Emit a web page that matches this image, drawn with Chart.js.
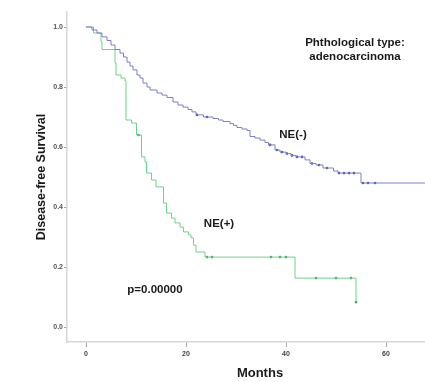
<!DOCTYPE html>
<html>
<head>
<meta charset="utf-8">
<script src="https://cdn.jsdelivr.net/npm/chart.js@4"></script>
<style>
  html, body { margin: 0; padding: 0; background: #fff; overflow: hidden; }
  #wrap { position: relative; width: 460px; height: 382px; }
</style>
</head>
<body>
<div id="wrap"><canvas id="km"></canvas></div>
<script>
// --- DATA (months, survival after each event) ---
const negSteps = [
  [0, 1.0], [1.2, 0.99], [2.2, 0.98], [3.2, 0.967], [4.2, 0.955], [5.0, 0.94],
  [5.8, 0.925], [6.8, 0.913], [7.5, 0.9], [8.2, 0.883], [8.8, 0.87], [9.4, 0.857],
  [10.2, 0.84], [10.8, 0.83], [11.4, 0.813], [12.2, 0.8], [12.8, 0.79], [14.2, 0.78],
  [15.2, 0.773], [16.2, 0.765], [17.4, 0.75], [18.4, 0.74], [19.4, 0.733], [20.4, 0.725],
  [21.2, 0.717], [22.0, 0.707], [23.5, 0.7], [25.4, 0.695], [26.5, 0.69], [27.4, 0.685],
  [28.8, 0.678], [29.5, 0.672], [30.2, 0.665], [31.2, 0.66], [32.2, 0.655], [32.8, 0.635],
  [33.8, 0.63], [34.8, 0.623], [35.8, 0.615], [36.5, 0.607], [37.8, 0.59], [38.8, 0.583],
  [40.0, 0.578], [41.0, 0.572], [42.0, 0.567], [43.8, 0.557], [44.8, 0.545], [46.0, 0.54],
  [47.4, 0.53], [49.5, 0.52], [50.4, 0.513], [55.0, 0.48], [73.4, 0.48]
];
const negCensored = [
  [22.2, 0.707], [24.2, 0.7], [36.8, 0.607], [38.2, 0.59], [39.2, 0.583], [40.2, 0.578],
  [41.2, 0.572], [42.2, 0.567], [43.2, 0.567], [45.2, 0.545], [46.6, 0.54], [48.2, 0.53],
  [50.6, 0.513], [51.6, 0.513], [52.6, 0.513], [53.6, 0.513], [55.4, 0.48], [56.4, 0.48], [57.8, 0.48]
];
const posSteps = [
  [0, 1.0], [1.5, 0.98], [3.0, 0.95], [3.2, 0.925], [5.8, 0.88], [6.0, 0.84], [7.0, 0.83],
  [7.8, 0.82], [8.0, 0.69], [9.1, 0.68], [10.1, 0.64], [11.1, 0.567], [11.8, 0.55],
  [12.1, 0.513], [13.1, 0.49], [14.0, 0.467], [15.5, 0.413], [16.1, 0.38], [17.1, 0.363],
  [17.8, 0.347], [18.8, 0.333], [19.5, 0.317], [20.5, 0.307], [21.0, 0.297], [21.5, 0.273],
  [22.0, 0.25], [23.8, 0.233], [41.8, 0.163], [54.0, 0.083]
];
const posCensored = [
  [10.5, 0.64], [24.2, 0.233], [25.2, 0.233], [37.0, 0.233], [38.8, 0.233], [40.0, 0.233],
  [46.0, 0.163], [50.0, 0.163], [53.0, 0.163], [54.0, 0.083]
];
const xTicks = [0, 20, 40, 60];
const yTicks = [0, 0.2, 0.4, 0.6, 0.8, 1.0];
const notes = [
  { text: 'Phthological type:', x: 355, y: 43 },
  { text: 'adenocarcinoma', x: 355, y: 57 },
  { text: 'NE(-)', x: 293, y: 135 },
  { text: 'NE(+)', x: 219, y: 224 },
  { text: 'p=0.00000', x: 155, y: 290 }
];

const toPts = arr => arr.map(([x, y]) => ({ x, y }));

const notesPlugin = {
  id: 'notes',
  afterDraw(chart) {
    const ctx = chart.ctx;
    ctx.save();
    ctx.font = 'bold 11.5px "Liberation Sans", Arial, sans-serif';
    ctx.fillStyle = '#1a1a1a';
    ctx.textAlign = 'center';
    ctx.textBaseline = 'middle';
    notes.forEach(n => ctx.fillText(n.text, n.x, n.y));
    ctx.restore();
  }
};

const tickFont = { family: '"Liberation Sans", Arial, sans-serif', size: 7, weight: 'bold' };
const titleFont = { family: '"Liberation Sans", Arial, sans-serif', size: 12.5, weight: 'bold' };

new Chart(document.getElementById('km'), {
  type: 'line',
  data: {
    datasets: [
      { label: 'NE(-)', data: toPts(negSteps), stepped: true, borderColor: '#7f7fc6', borderWidth: 1, pointRadius: 0, fill: false },
      { label: 'NE(+)', data: toPts(posSteps), stepped: true, borderColor: '#6fd18e', borderWidth: 1, pointRadius: 0, fill: false },
      { type: 'scatter', data: toPts(negCensored), showLine: false, pointRadius: 1.3, pointBackgroundColor: '#3f4fa6', pointBorderWidth: 0 },
      { type: 'scatter', data: toPts(posCensored), showLine: false, pointRadius: 1.3, pointBackgroundColor: '#3f9a5c', pointBorderWidth: 0 }
    ]
  },
  options: {
    responsive: true,
    maintainAspectRatio: false,
    animation: false,
    layout: { padding: { top: 12, left: 0, right: 7, bottom: 0 } },
    plugins: { legend: { display: false }, tooltip: { enabled: false } },
    scales: {
      x: {
        type: 'linear',
        min: -3.8,
        max: 73.4,
        afterBuildTicks: s => { s.ticks = xTicks.map(v => ({ value: v })); },
        afterFit: s => { s.height = 40; },
        grid: { drawOnChartArea: false, tickLength: 5, color: '#aaa' },
        border: { color: '#d6d6d6', width: 1.5 },
        ticks: { font: tickFont, color: '#444', padding: 3 },
        title: { display: true, text: 'Months', font: { ...titleFont, size: 13 }, color: '#1a1a1a', padding: { top: 0, bottom: 1 } }
      },
      y: {
        min: -0.05,
        max: 1.05,
        afterBuildTicks: s => { s.ticks = yTicks.map(v => ({ value: v })); },
        afterFit: s => { s.width = 67; },
        grid: { drawOnChartArea: false, tickLength: 3, color: '#999' },
        border: { color: '#d6d6d6', width: 1.5 },
        ticks: { font: tickFont, color: '#555', padding: 1, callback: v => v.toFixed(1) },
        title: { display: true, text: 'Disease-free Survival', font: titleFont, color: '#1a1a1a', padding: { top: 34, bottom: 0 } }
      }
    }
  },
  plugins: [notesPlugin]
});
</script>
</body>
</html>
